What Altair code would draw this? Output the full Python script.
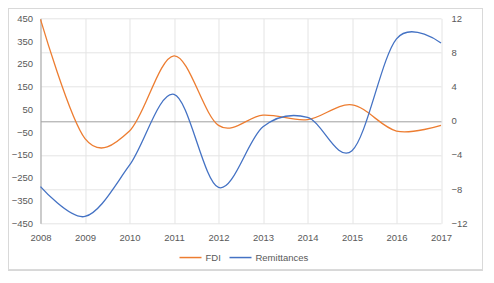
import altair as alt
import pandas as pd

years = [2008, 2009, 2010, 2011, 2012, 2013, 2014, 2015, 2016, 2017]
fdi = [445, -78, -45, 285, -20, 25, 5, 70, -45, -20]
remittances = [-7.7, -11.2, -5.2, 3.1, -7.8, -0.7, 0.4, -3.5, 9.6, 9.1]
left_ticks = [450, 350, 250, 150, 50, -50, -150, -250, -350, -450]
right_ticks = [12, 8, 4, 0, -4, -8, -12]
series = ["FDI", "Remittances"]
colors = ["#ED7D31", "#4472C4"]

df_fdi = pd.DataFrame({"year": years, "value": fdi, "series": "FDI"})
df_rem = pd.DataFrame({"year": years, "value": remittances, "series": "Remittances"})

FONT = "Liberation Sans"
LABEL = "#595959"
GRID = "#e4e4e4"
FS = 9.5

x_enc = alt.X(
    "year:Q",
    scale=alt.Scale(domain=[2008, 2017], nice=False, zero=False),
    axis=alt.Axis(values=years, format="d", grid=True, gridColor=GRID,
                  domain=False, ticks=False, labelPadding=9, title=None,
                  labelFlush=False, labelBound=False,
                  labelFontSize=FS, labelColor=LABEL, labelFont=FONT),
)

color_enc = alt.Color(
    "series:N",
    scale=alt.Scale(domain=series, range=colors),
    legend=alt.Legend(
        orient="none", legendX=138, legendY=227, direction="horizontal",
        title=None, symbolType="stroke", symbolSize=484, symbolStrokeWidth=1.5,
        labelFontSize=FS, labelColor=LABEL, labelFont=FONT, labelOffset=3,
        columnPadding=5, padding=0,
    ),
)

fdi_line = alt.Chart(df_fdi).mark_line(interpolate="cardinal", strokeWidth=1.3).encode(
    x=x_enc,
    y=alt.Y("value:Q",
            scale=alt.Scale(domain=[-450, 450], nice=False, zero=False),
            axis=alt.Axis(orient="left", values=left_ticks, grid=False,
                          domain=True, domainColor="#a6a6a6", ticks=False,
                          labelPadding=8, title=None, labelFontSize=FS,
                          labelColor=LABEL, labelFont=FONT)),
    color=color_enc,
)

border = alt.Chart(df_fdi).mark_rect(fillOpacity=0, stroke="#d9d9d9", strokeWidth=1).encode(
    x=alt.value(-32), x2=alt.value(442), y=alt.value(-9.8), y2=alt.value(252)
)

rem_line = alt.Chart(df_rem).mark_line(interpolate="cardinal", strokeWidth=1.3).encode(
    x=x_enc,
    y=alt.Y("value:Q",
            scale=alt.Scale(domain=[-12, 12], nice=False, zero=False),
            axis=alt.Axis(orient="right", values=right_ticks, grid=True,
                          gridColor={"condition": {"test": "datum.value === 0", "value": "#a0a0a0"}, "value": GRID},
                          domain=False, ticks=False, labelPadding=10, title=None,
                          labelFontSize=FS, labelColor=LABEL, labelFont=FONT)),
    color=color_enc,
)

chart = alt.layer(alt.layer(border, fdi_line), rem_line).resolve_scale(
    y="independent"
).properties(
    width=400.5, height=205,
    padding={"left": 32.5, "top": 10.3, "right": 44, "bottom": 48},
    autosize=alt.AutoSizeParams(type="none"),
).configure_view(stroke=None)

chart.save("out.html", embed_options={"renderer": "svg", "actions": False})
